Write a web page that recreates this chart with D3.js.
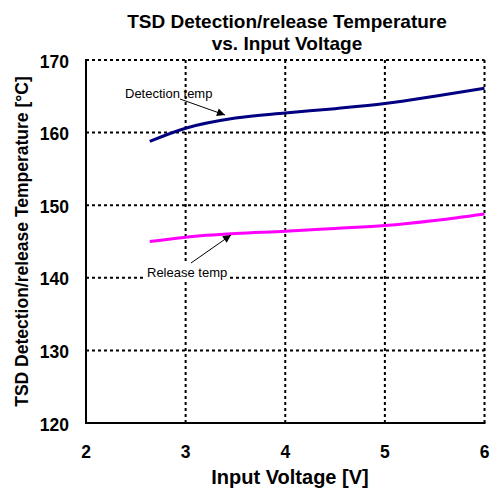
<!DOCTYPE html>
<html>
<head>
<meta charset="utf-8">
<script src="https://cdn.jsdelivr.net/npm/d3@7"></script>
<style>
  body { margin: 0; background: #fff; }
  text { font-family: "Liberation Sans", Arial, sans-serif; }
</style>
</head>
<body>
<script>
// data
const voltage = [2.64, 3.0, 3.5, 4.0, 4.5, 5.0, 5.5, 6.0];
const detectionTemp = [158.8, 160.6, 162.0, 162.7, 163.3, 164.0, 165.0, 166.1];
const releaseTemp = [145.0, 145.6, 146.1, 146.4, 146.8, 147.2, 147.9, 148.8];
const xTicks = [2, 3, 4, 5, 6];
const yTicks = [120, 130, 140, 150, 160, 170];

const width = 493;
const height = 490;
const margin = { top: 60, right: 8, bottom: 67, left: 86 };

const svg = d3.select('body').append('svg')
  .attr('width', width)
  .attr('height', height);

const x = d3.scaleLinear().domain([2, 6]).range([margin.left, width - margin.right - 0.5]);
const y = d3.scaleLinear().domain([120, 170]).range([height - margin.bottom, margin.top]);

// grid (dotted)
const grid = svg.append('g').attr('class', 'grid');
grid.selectAll('line.v')
  .data(xTicks.slice(1))
  .enter().append('line')
  .attr('x1', (d) => x(d)).attr('x2', (d) => x(d))
  .attr('y1', y(170)).attr('y2', y(120))
  .attr('stroke', '#000').attr('stroke-width', 2)
  .attr('stroke-dasharray', '3,3');
grid.selectAll('line.h')
  .data(yTicks.slice(1))
  .enter().append('line')
  .attr('x1', x(2)).attr('x2', x(6))
  .attr('y1', (d) => y(d)).attr('y2', (d) => y(d))
  .attr('stroke', '#000').attr('stroke-width', 2)
  .attr('stroke-dasharray', '3,3');

// solid left and bottom axes
svg.append('line')
  .attr('x1', x(2)).attr('x2', x(2)).attr('y1', y(170) - 1).attr('y2', y(120) + 1)
  .attr('stroke', '#000').attr('stroke-width', 2);
svg.append('line')
  .attr('x1', x(2) - 1).attr('x2', x(6) + 1).attr('y1', y(120)).attr('y2', y(120))
  .attr('stroke', '#000').attr('stroke-width', 2);

// tick labels
svg.selectAll('text.xt')
  .data(xTicks)
  .enter().append('text')
  .attr('x', (d) => x(d)).attr('y', y(120) + 35)
  .attr('text-anchor', 'middle')
  .style('font-size', '17.5px').style('font-weight', 'bold')
  .text((d) => d);
svg.selectAll('text.yt')
  .data(yTicks)
  .enter().append('text')
  .attr('x', x(2) - 17).attr('y', (d) => y(d) + 7.5)
  .attr('text-anchor', 'end')
  .style('font-size', '17.5px').style('font-weight', 'bold')
  .text((d) => d);

// curves
const line = d3.line()
  .x((d) => x(d[0]))
  .y((d) => y(d[1]))
  .curve(d3.curveMonotoneX);

svg.append('path')
  .datum(voltage.map((v, i) => [v, detectionTemp[i]]))
  .attr('d', line)
  .attr('fill', 'none').attr('stroke', '#000080').attr('stroke-width', 3);
svg.append('path')
  .datum(voltage.map((v, i) => [v, releaseTemp[i]]))
  .attr('d', line)
  .attr('fill', 'none').attr('stroke', '#ff00ff').attr('stroke-width', 3);

// annotations
svg.append('defs').append('marker')
  .attr('id', 'arrow')
  .attr('viewBox', '0 0 10 10')
  .attr('refX', 10).attr('refY', 5)
  .attr('markerWidth', 10).attr('markerHeight', 8)
  .attr('markerUnits', 'userSpaceOnUse')
  .attr('orient', 'auto')
  .append('path')
  .attr('d', 'M0,0L10,5L0,10Z')
  .attr('fill', '#000');

svg.append('line')
  .attr('x1', 180).attr('y1', 99)
  .attr('x2', 225).attr('y2', 115)
  .attr('stroke', '#000').attr('stroke-width', 1)
  .attr('marker-end', 'url(#arrow)');
svg.append('text')
  .attr('x', 125).attr('y', 98)
  .style('font-size', '13px')
  .text('Detection temp');

svg.append('line')
  .attr('x1', 191).attr('y1', 263)
  .attr('x2', 231).attr('y2', 235)
  .attr('stroke', '#000').attr('stroke-width', 1)
  .attr('marker-end', 'url(#arrow)');
svg.append('rect')
  .attr('x', 145).attr('y', 264).attr('width', 85).attr('height', 17)
  .attr('fill', '#fff');
svg.append('text')
  .attr('x', 147).attr('y', 277)
  .style('font-size', '13px')
  .text('Release temp');

// titles
svg.append('text')
  .attr('x', 287).attr('y', 28)
  .attr('text-anchor', 'middle')
  .style('font-size', '19px').style('font-weight', 'bold')
  .text('TSD Detection/release Temperature');
svg.append('text')
  .attr('x', 287).attr('y', 50)
  .attr('text-anchor', 'middle')
  .style('font-size', '19px').style('font-weight', 'bold')
  .text('vs. Input Voltage');

svg.append('text')
  .attr('x', 290).attr('y', 484)
  .attr('text-anchor', 'middle')
  .style('font-size', '20px').style('font-weight', 'bold')
  .text('Input Voltage [V]');

svg.append('text')
  .attr('transform', `translate(28, ${(y(120) + y(170)) / 2}) rotate(-90)`)
  .attr('text-anchor', 'middle')
  .style('font-size', '17.5px').style('font-weight', 'bold')
  .text('TSD Detection/release Temperature [°C]');
</script>
</body>
</html>
